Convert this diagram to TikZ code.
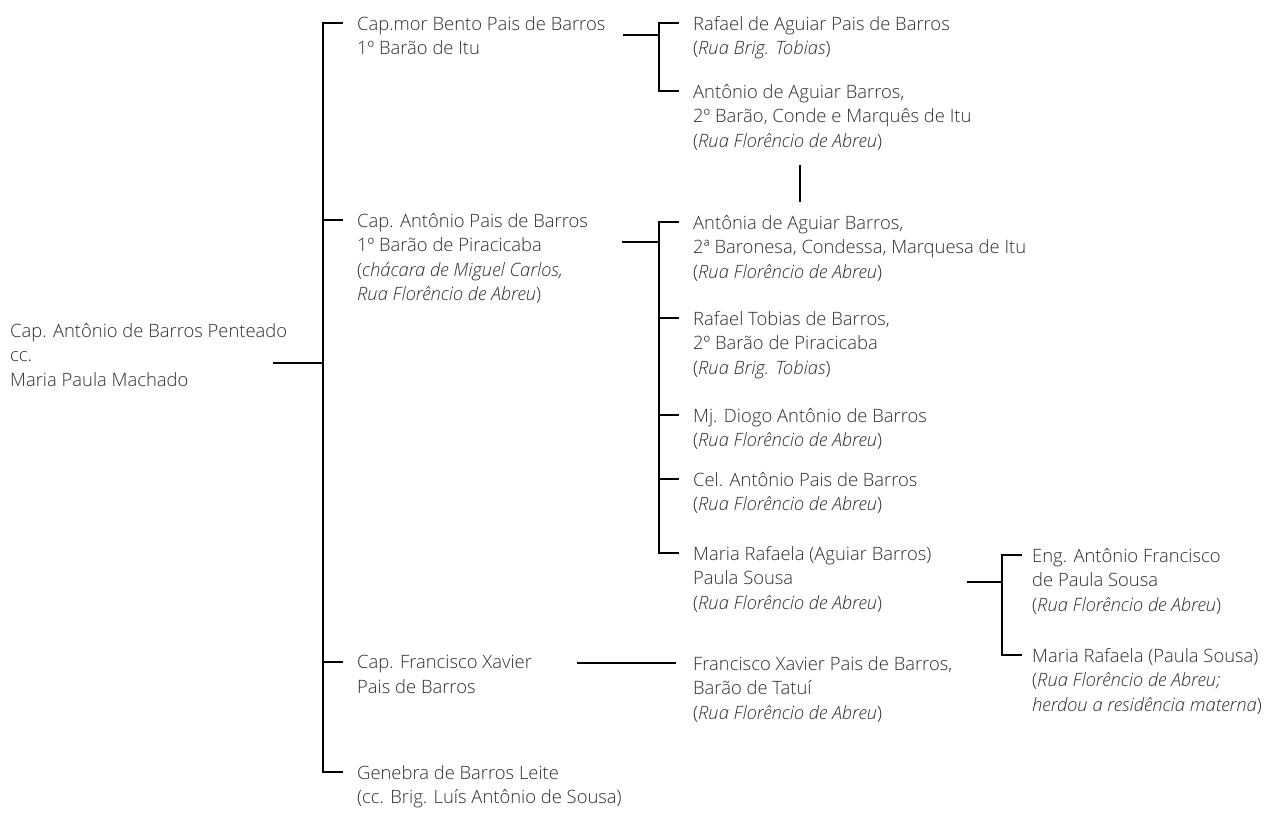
\documentclass[tikz,border=0pt]{standalone}
\usepackage{fontspec}
\setmainfont{Open Sans}[UprightFont=* Light,ItalicFont=* Light Italic]
\usetikzlibrary{calc}

\definecolor{ink}{HTML}{2E2E2E}

\begin{document}
\begin{tikzpicture}[
  x=1pt,y=-1pt,
  every node/.style={anchor=north west,align=left,inner sep=0pt,text=ink,
    font=\fontsize{18.4}{24.5}\selectfont,execute at begin node=\strut},
  link/.style={line width=1.1pt},
  ]
  \useasboundingbox (0,0) rectangle (1277,812);

  % generation 0
  \node (root) at (10,323) {Cap. Antônio de Barros Penteado\\cc.\\Maria Paula Machado};

  % generation 1
  \node (bento) at (357,16) {Cap.mor Bento Pais de Barros\\1º Barão de Itu};
  \node (pais) at (357,213) {Cap. Antônio Pais de Barros\\1º Barão de Piracicaba\\(\textit{chácara de Miguel Carlos,}\\\textit{Rua Florêncio de Abreu})};
  \node (xavier) at (357,655) {Cap. Francisco Xavier\\Pais de Barros};
  \node (genebra) at (357,765) {Genebra de Barros Leite\\(cc. Brig. Luís Antônio de Sousa)};

  % generation 2
  \node (rafael) at (693,16) {Rafael de Aguiar Pais de Barros\\(\textit{Rua Brig. Tobias})};
  \node (marques) at (693,84) {Antônio de Aguiar Barros,\\2º Barão, Conde e Marquês de Itu\\(\textit{Rua Florêncio de Abreu})};
  \node (marquesa) at (693,215) {Antônia de Aguiar Barros,\\2ª Baronesa, Condessa, Marquesa de Itu\\(\textit{Rua Florêncio de Abreu})};
  \node (tobias) at (693,311) {Rafael Tobias de Barros,\\2º Barão de Piracicaba\\(\textit{Rua Brig. Tobias})};
  \node (diogo) at (693,408) {Mj. Diogo Antônio de Barros\\(\textit{Rua Florêncio de Abreu})};
  \node (cel) at (693,472) {Cel. Antônio Pais de Barros\\(\textit{Rua Florêncio de Abreu})};
  \node (mrafaela) at (693,546) {Maria Rafaela (Aguiar Barros)\\Paula Sousa\\(\textit{Rua Florêncio de Abreu})};
  \node (tatui) at (693,656) {Francisco Xavier Pais de Barros,\\Barão de Tatuí\\(\textit{Rua Florêncio de Abreu})};

  % generation 3
  \node (eng) at (1032,548) {Eng. Antônio Francisco\\de Paula Sousa\\(\textit{Rua Florêncio de Abreu})};
  \node (paulasousa) at (1032,648) {Maria Rafaela (Paula Sousa)\\(\textit{Rua Florêncio de Abreu;}\\\textit{herdou a residência materna})};

  % tick points
  \foreach \n in {bento,pais,xavier,genebra,rafael,marques,marquesa,tobias,diogo,cel,mrafaela}
    \coordinate (t-\n) at ($(\n.north west)+(-14,7)$);
  \foreach \n in {eng,paulasousa}
    \coordinate (t-\n) at ($(\n.north west)+(-10,7)$);
  \coordinate (j-root) at (323,363);
  \coordinate (j-bento) at (658,35);
  \coordinate (j-pais) at (658,242);
  \coordinate (j-mrafaela) at (1002,582);

  % connectors
  \draw[link] (j-root) -- ++(-50,0);
  \draw[link] (t-bento) -- ++(-20,0) |- (t-genebra);
  \draw[link] (t-pais) -- ++(-20,0);
  \draw[link] (t-xavier) -- ++(-20,0);

  \draw[link] (j-bento) -- ++(-35,0);
  \draw[link] (t-rafael) -- ++(-20,0) |- (t-marques);

  \draw[link] (j-pais) -- ++(-36,0);
  \draw[link] (t-marquesa) -- ++(-20,0) |- (t-mrafaela);
  \foreach \n in {tobias,diogo,cel}
    \draw[link] (t-\n) -- ++(-20,0);

  \draw[link] (j-mrafaela) -- ++(-35,0);
  \draw[link] (t-eng) -- ++(-20,0) |- (t-paulasousa);

  \draw[link] ($(tatui.north west)+(-17,7)$) -- ++(-99,0);
  \draw[link] ($(marques.south west)+(107,10)$) -- ($(marquesa.north west)+(107,-13)$);
\end{tikzpicture}
\end{document}
